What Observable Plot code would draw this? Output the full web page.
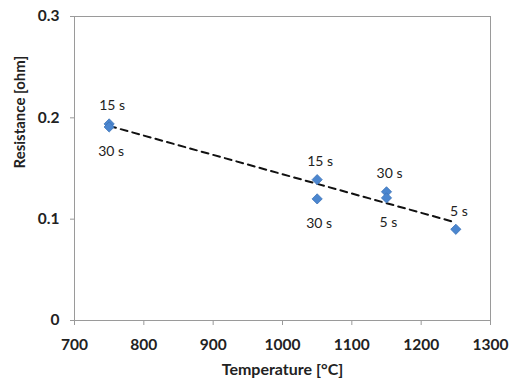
<!DOCTYPE html>
<html>
<head>
<meta charset="utf-8">
<script src="https://cdn.jsdelivr.net/npm/d3@7"></script>
<script src="https://cdn.jsdelivr.net/npm/@observablehq/plot@0.6"></script>
<style>
  html, body { margin: 0; padding: 0; background: #fff; }
  #chart svg { display: block; }
</style>
</head>
<body>
<div id="chart"></div>
<script>
// Data
const temperatures = [750, 750, 1050, 1050, 1150, 1150, 1250];
const resistances = [0.194, 0.191, 0.139, 0.120, 0.127, 0.121, 0.090];
const durations = ["15 s", "30 s", "15 s", "30 s", "30 s", "5 s", "5 s"];
const xTicks = [700, 800, 900, 1000, 1100, 1200, 1300];
const yTicks = [0, 0.1, 0.2, 0.3];

const points = temperatures.map((t, i) => ({temperature: t, resistance: resistances[i], duration: durations[i]}));

// which labels sit above their marker (layout, not data)
const aboveIdx = new Set([0, 2, 4, 6]);
const above = points.filter((d, i) => aboveIdx.has(i));
const below = points.filter((d, i) => !aboveIdx.has(i));

const font = "Lato, 'Open Sans', sans-serif";

const chart = Plot.plot({
  width: 511,
  height: 379,
  marginLeft: 74,
  marginRight: 21,
  marginTop: 16,
  marginBottom: 59,
  style: {fontFamily: font, background: "#fff", color: "#222"},
  x: {domain: [700, 1300]},
  y: {domain: [0, 0.3]},
  marks: [
    Plot.frame({stroke: "#9a9a9a", strokeWidth: 1}),
    Plot.axisX({
      ticks: xTicks, tickSize: 5, tickPadding: 13, stroke: "#9a9a9a",
      tickFormat: d => String(d),
      fontSize: 15.5, fontWeight: "bold", fill: "#222",
      label: null
    }),
    Plot.axisY({
      ticks: yTicks, tickSize: 4, tickPadding: 11, stroke: "#9a9a9a",
      tickFormat: d => d === 0 ? "0" : d3.format(".1f")(d),
      fontSize: 15.5, fontWeight: "bold", fill: "#222",
      label: null
    }),
    Plot.text(["Temperature [°C]"], {
      frameAnchor: "bottom", dy: 54, fontSize: 16, fontWeight: "bold", fill: "#222", fontFamily: font
    }),
    Plot.text(["Resistance [ohm]"], {
      frameAnchor: "left", dx: -54, rotate: -90, fontSize: 15, fontWeight: "bold", fill: "#222", fontFamily: font
    }),
    Plot.linearRegressionY(points, {
      x: "temperature", y: "resistance", ci: 0,
      stroke: "#111", strokeWidth: 2, strokeDasharray: "7,5"
    }),
    Plot.dot(points, {
      x: "temperature", y: "resistance", symbol: "diamond2", r: 4.6,
      fill: "#4b86cf", stroke: "#3d74b8", strokeWidth: 0.8
    }),
    Plot.text(above, {
      x: "temperature", y: "resistance", text: "duration",
      dy: -18, dx: 3, fontSize: 14, fill: "#222", fontFamily: font
    }),
    Plot.text(below, {
      x: "temperature", y: "resistance", text: "duration",
      dy: 25, dx: 2, fontSize: 14, fill: "#222", fontFamily: font
    })
  ]
});

document.getElementById("chart").appendChild(chart);
</script>
</body>
</html>
